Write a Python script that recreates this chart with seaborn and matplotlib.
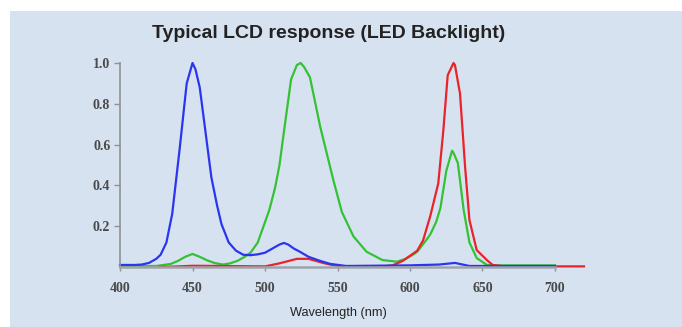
import pandas as pd
import matplotlib.pyplot as plt
import seaborn as sns
from matplotlib.patches import Rectangle

# spectral response curves (wavelength nm, relative response)
blue_nm = [400, 410, 415, 420, 425, 428, 432, 436, 441, 446, 450, 452, 455, 459, 463,
           467, 470, 475, 480, 485, 490, 495, 500, 505, 510, 513, 516, 520, 524, 530,
           538, 545, 556, 600, 620, 631, 641, 700]
blue_val = [0.01, 0.01, 0.012, 0.02, 0.04, 0.06, 0.12, 0.26, 0.57, 0.9, 1.0, 0.97, 0.88,
            0.66, 0.44, 0.30, 0.21, 0.12, 0.08, 0.06, 0.058, 0.062, 0.07, 0.09, 0.11,
            0.118, 0.11, 0.09, 0.075, 0.05, 0.03, 0.015, 0.005, 0.008, 0.012, 0.02,
            0.005, 0.005]

green_nm = [400, 425, 435, 440, 445, 450, 455, 460, 465, 471, 476, 481, 486, 490, 495,
            500, 503, 507, 510, 513, 518, 522, 524.6, 527, 531, 538, 547, 553, 561, 570,
            581, 591, 597, 602, 605, 611, 614, 618, 621, 625, 629, 630, 633, 637, 641,
            646, 653, 660, 700]
green_val = [0.005, 0.005, 0.015, 0.03, 0.05, 0.064, 0.05, 0.033, 0.02, 0.012, 0.018,
             0.03, 0.05, 0.07, 0.12, 0.22, 0.28, 0.39, 0.5, 0.66, 0.92, 0.99, 1.0, 0.98,
             0.93, 0.69, 0.43, 0.27, 0.15, 0.075, 0.034, 0.026, 0.04, 0.06, 0.075, 0.13,
             0.16, 0.22, 0.29, 0.47, 0.57, 0.56, 0.51, 0.28, 0.12, 0.044, 0.01, 0.008,
             0.008]

red_nm = [427, 440, 450, 470, 500, 510, 522, 530, 535, 540, 545, 550, 556, 580, 588,
          595, 600, 605, 609, 614, 619.5, 623, 626, 630, 631, 634.5, 638, 641, 646, 653,
          657, 665, 720]
red_val = [0.0, 0.003, 0.006, 0.005, 0.003, 0.018, 0.04, 0.04, 0.03, 0.02, 0.012, 0.006,
           0.002, 0.002, 0.008, 0.03, 0.055, 0.08, 0.13, 0.25, 0.41, 0.67, 0.94, 1.0,
           0.99, 0.85, 0.49, 0.23, 0.083, 0.034, 0.01, 0.003, 0.003]

x_ticks = [400, 450, 500, 550, 600, 650, 700]
y_ticks = [0.2, 0.4, 0.6, 0.8, 1.0]

df = pd.concat([
    pd.DataFrame({'nm': green_nm, 'resp': green_val, 'ch': 'green'}),
    pd.DataFrame({'nm': red_nm, 'resp': red_val, 'ch': 'red'}),
    pd.DataFrame({'nm': blue_nm, 'resp': blue_val, 'ch': 'blue'}),
])

panel = '#d7e2f1'
palette = {'green': '#33c233', 'red': '#e8232a', 'blue': '#2a35f2'}

fig = plt.figure(figsize=(6.82, 3.27), dpi=100, facecolor='white')
fig.patches.append(Rectangle((10 / 682, 0), 1, 1 - 11 / 327, transform=fig.transFigure,
                             facecolor=panel, edgecolor='none', zorder=-5))

ax = fig.add_axes([120 / 682, 60 / 327, 464 / 682, 204 / 327])
ax.set_facecolor('none')

sns.lineplot(data=df, x='nm', y='resp', hue='ch', palette=palette, estimator=None,
             linewidth=1.6, legend=False, ax=ax)
for line in ax.lines:
    line.set_clip_on(False)

ax.set_xlim(400, 720)
ax.set_ylim(0, 1.0)
ax.set_xticks(x_ticks)
ax.set_yticks(y_ticks)
ax.set_xticklabels([str(t) for t in x_ticks])
ax.set_yticklabels([f'{t:.1f}' for t in y_ticks])

for s in ['top', 'right']:
    ax.spines[s].set_visible(False)
ax.spines['bottom'].set_bounds(400, 700)
ax.spines['bottom'].set_color('#a0a4aa')
ax.spines['bottom'].set_linewidth(1.8)
ax.spines['left'].set_color('#8e9298')
ax.spines['left'].set_linewidth(1.2)

ax.tick_params(axis='x', length=3, width=1, color='#8e9298', pad=8)
ax.tick_params(axis='y', length=4, width=1, color='#8e9298', pad=3)
for lab in ax.get_xticklabels() + ax.get_yticklabels():
    lab.set_family('Liberation Serif')
    lab.set_fontweight('bold')
    lab.set_fontsize(10)
    lab.set_color('#4a4a4a')

ax.set_xlabel('')
ax.set_ylabel('')
fig.text(338 / 682, 1 - 313 / 327, 'Wavelength (nm)', family='Liberation Sans',
         fontsize=9.2, color='#222222', ha='center', va='center')
fig.text(329 / 682, 1 - 33 / 327, 'Typical LCD response (LED Backlight)',
         family='Liberation Sans', fontweight='bold', fontsize=14, color='#222222',
         ha='center', va='center')

fig.savefig('out.png', dpi=100, facecolor='white')
plt.close(fig)
